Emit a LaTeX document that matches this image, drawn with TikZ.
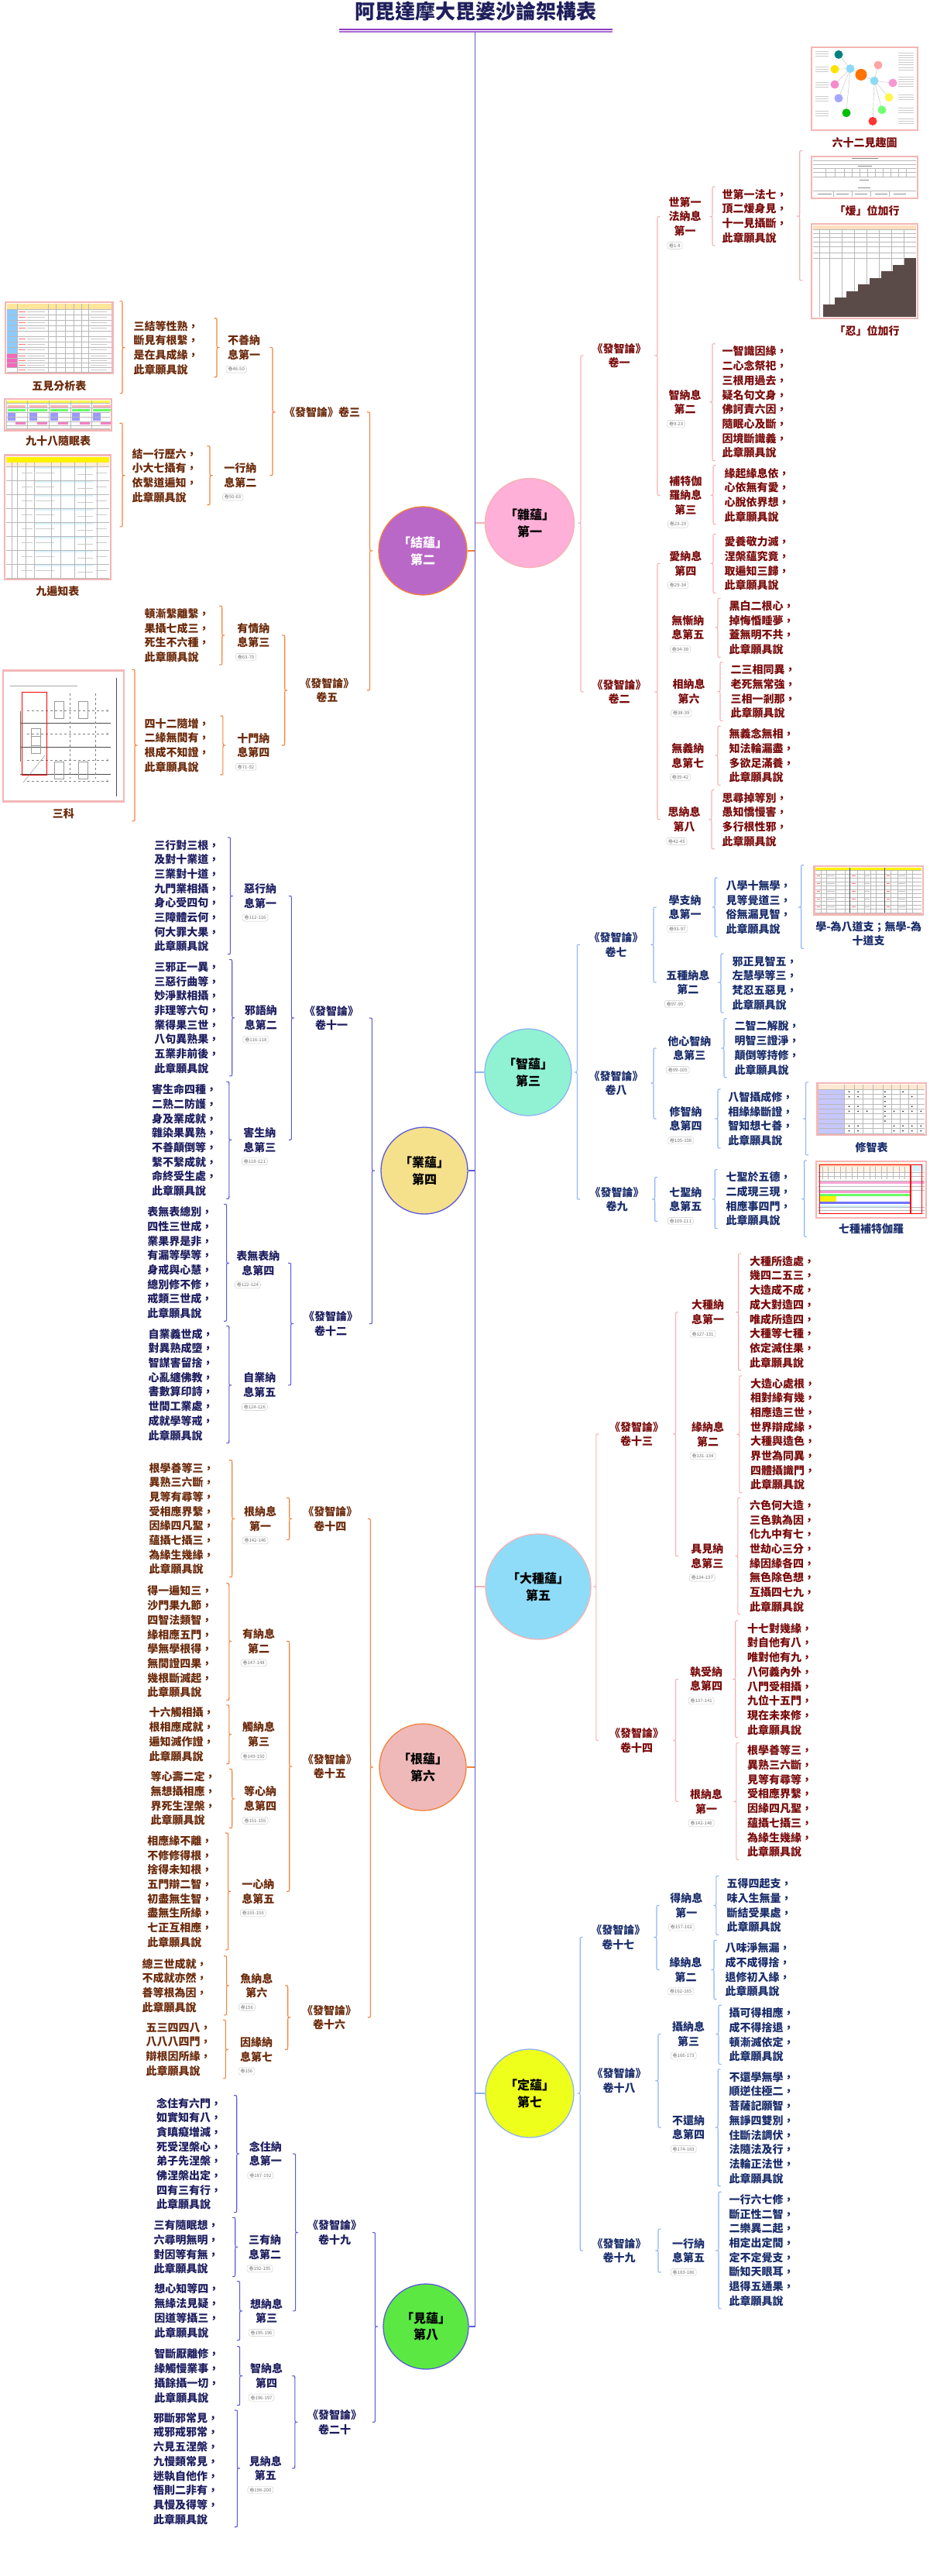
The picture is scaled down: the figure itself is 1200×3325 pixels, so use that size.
\documentclass[tikz,border=0pt]{standalone}
\usepackage{fontspec}
\setmainfont{Noto Sans CJK TC}
\usetikzlibrary{calc,positioning}

\definecolor{titlenavy}{HTML}{1F1F5C}
\definecolor{rulepurple}{HTML}{8E3CC0}
\definecolor{trunkblue}{HTML}{5C5CD8}
\definecolor{rosel}{HTML}{F5B2B2}
\definecolor{rosetx}{HTML}{7A0C0C}
\definecolor{orangel}{HTML}{F2813A}
\definecolor{orangetx}{HTML}{6B2A0B}
\definecolor{skyl}{HTML}{8DB4F5}
\definecolor{skytx}{HTML}{1A2D6B}
\definecolor{bluel}{HTML}{5A5AD9}
\definecolor{bluetx}{HTML}{1E1E60}
\definecolor{shotpink}{HTML}{F4B6B6}
\definecolor{zafill}{HTML}{FFB0D8}
\definecolor{jiefill}{HTML}{BA68C8}
\definecolor{zhifill}{HTML}{90F2D2}
\definecolor{yefill}{HTML}{F5E08C}
\definecolor{dafill}{HTML}{8FDCF8}
\definecolor{genfill}{HTML}{F0B9B9}
\definecolor{dingfill}{HTML}{EEFF1C}
\definecolor{jianfill}{HTML}{5BE843}
\definecolor{stair}{HTML}{5B4B48}
\definecolor{hdr}{HTML}{FFE699}

% brace from a parent to its children: style, x, curl (3.5pt right / -3.5pt left), top, tip, bottom
\newcommand\xfork[6]{%
  \draw[#1] let \p4=(#2,0), \p1=(#4), \p2=(#5), \p3=(#6) in
    ({\x4+(#3)},\y1) .. controls (\x4,\y1) .. (\x4,{\y1-3.5pt})
    -- (\x4,{\y2+3pt}) .. controls (\x4,\y2) .. ({\x4-(#3)},\y2)
    .. controls (\x4,\y2) .. (\x4,{\y2-3pt})
    -- (\x4,{\y3+3.5pt}) .. controls (\x4,\y3) .. ({\x4+(#3)},\y3);}

% section label with its volume tag under it: name, position, colour, label, volumes
\newcommand\nax[5]{%
  \node[nax=#3] (#1) at (#2) {#4};
  \node[volno, anchor=north west] (#1-g) at ([shift={(1,4)}]#1.south west) {#5};}

\begin{document}
\begin{tikzpicture}[x=1pt,y=-1pt,
    ball/.style={circle, draw=#1, line width=1.3pt, inner sep=0pt, align=center,
      font=\bfseries\fontsize{16}{21.8}\selectfont},
    juan/.style={align=center, inner sep=3pt, text=#1, font=\bfseries\fontsize{14}{18.6}\selectfont},
    nax/.style={align=center, inner sep=3pt, text=#1, font=\bfseries\fontsize{14}{18.6}\selectfont},
    gatha/.style={anchor=west, align=left, inner sep=3pt, text=#1, font=\bfseries\fontsize{14}{18.7}\selectfont},
    volno/.style={draw=black!22, fill=white, rounded corners=3pt, text=black!55,
      font=\fontsize{6}{7}\selectfont, inner xsep=2.5pt, inner ysep=1.8pt},
    shot/.style={draw=shotpink, line width=2.4pt, fill=white, inner sep=0pt},
    cap/.style={align=center, inner sep=3pt, text=#1, font=\bfseries\fontsize{14}{18.6}\selectfont},
    rosef/.style={draw=rosel, line width=1.1pt},
    orangef/.style={draw=orangel, line width=1.1pt},
    skyf/.style={draw=skyl, line width=1.1pt},
    bluef/.style={draw=bluel, line width=1.1pt},
    cellline/.style={draw=black!28, line width=0.35pt},
    inkline/.style={draw=black!30, line width=0.9pt},
  ]
\useasboundingbox (0,0) rectangle (1200,3325);

% title and trunk
\node[text=titlenavy, font=\bfseries\fontsize{26}{30}\selectfont] (title) at (614,15) {阿毘達摩大毘婆沙論架構表};
\draw[rulepurple, line width=1.4pt] (438,37.8) -- (791,37.8);
\draw[rulepurple!75, line width=1.1pt] (438,41) -- (791,41);
\coordinate (trunk) at (613.5,41);

% ---------- 雜蘊 ----------
\node[ball=rosel, fill=zafill, minimum size=115pt] (za) at (684,675) {「雜蘊」\\第一};
\draw[rosef] (za.west -| trunk) -- (za.west);
\node[juan=rosetx] (za-v1) at (799.5,459) {《發智論》\\卷一};
\node[juan=rosetx] (za-v2) at (799.5,893) {《發智論》\\卷二};
\xfork{rosef}{750}{3.5pt}{za-v1}{za}{za-v2}
\nax{za-s1}{884.5,279.6}{rosetx}{世第一\\法納息\\第一}{卷1-8}
\nax{za-s2}{884.5,519}{rosetx}{智納息\\第二}{卷9-23}
\nax{za-s3}{885.3,639.3}{rosetx}{補特伽\\羅納息\\第三}{卷23-29}
\xfork{rosef}{849}{3.5pt}{za-s1}{za-v1}{za-s3}
\node[gatha=rosetx] (za-t1) at (929.5,279) {世第一法七，\\頂二煖身見，\\十一見攝斷，\\此章願具說};
\xfork{rosef}{920}{3.5pt}{za-t1.north}{za-s1}{za-t1.south}
\node[gatha=rosetx] (za-t2) at (929.5,519.1) {一智識因緣，\\二心念祭祀，\\三根用過去，\\疑名句文身，\\佛訶責六因，\\隨眠心及斷，\\因境斷識義，\\此章願具說};
\xfork{rosef}{920}{3.5pt}{za-t2.north}{za-s2}{za-t2.south}
\node[gatha=rosetx] (za-t3) at (932.4,638.75) {緣起緣息依，\\心依無有愛，\\心脫依界想，\\此章願具說};
\xfork{rosef}{921}{3.5pt}{za-t3.north}{za-s3}{za-t3.south}
\nax{za-s4}{885.3,727.3}{rosetx}{愛納息\\第四}{卷29-34}
\nax{za-s5}{888.4,810}{rosetx}{無慚納\\息第五}{卷34-38}
\nax{za-s6}{889.6,892.6}{rosetx}{相納息\\第六}{卷38-39}
\nax{za-s7}{888.4,975.3}{rosetx}{無義納\\息第七}{卷39-42}
\nax{za-s8}{883.7,1057.8}{rosetx}{思納息\\第八}{卷42-45}
\xfork{rosef}{849}{3.5pt}{za-s4}{za-v2}{za-s8}
\node[gatha=rosetx] (za-t4) at (932.4,727.4) {愛養敬力滅，\\涅槃蘊究竟，\\取遍知三歸，\\此章願具說};
\xfork{rosef}{921}{3.5pt}{za-t4.north}{za-s4}{za-t4.south}
\node[gatha=rosetx] (za-t5) at (938.3,810.3) {黑白二根心，\\掉悔惛睡夢，\\蓋無明不共，\\此章願具說};
\xfork{rosef}{927}{3.5pt}{za-t5.north}{za-s5}{za-t5.south}
\node[gatha=rosetx] (za-t6) at (940.3,892.5) {二三相同異，\\老死無常強，\\三相一剎那，\\此章願具說};
\xfork{rosef}{930}{3.5pt}{za-t6.north}{za-s6}{za-t6.south}
\node[gatha=rosetx] (za-t7) at (938.3,975.3) {無義念無相，\\知法輪漏盡，\\多欲足滿養，\\此章願具說};
\xfork{rosef}{927}{3.5pt}{za-t7.north}{za-s7}{za-t7.south}
\node[gatha=rosetx] (za-t8) at (929.5,1057.7) {思尋掉等別，\\愚知憍慢害，\\多行根性邪，\\此章願具說};
\xfork{rosef}{919}{3.5pt}{za-t8.north}{za-s8}{za-t8.south}
% pictures of 世第一法
\node[shot, minimum width=137pt, minimum height=107pt] (za-p1) at (1116.5,114.5) {};
\begin{scope}[cellline]
  \foreach \a/\b in {1083/70.4,1078/89.3,1078/109,1083/126.8,1093/145.7}
    \draw (\a,\b) -- (1098,88.6);
  \draw (1098,88.6) -- (1112,96.4) -- (1129,104.3);
  \foreach \a/\b in {1134/84,1153/107,1148/125.7,1139/141.8,1127/156.4}
    \draw (1129,104.3) -- (\a,\b);
\end{scope}
\foreach \b in {66,69,72,86,89,92,106,109,112,124,127,130,143,146,149}
  \draw[inkline, black!20] (1053,\b) -- (1070,\b);
\foreach \b in {68,71,74,77,80,83,87,90,99,102,105,108,111,122,125,128,139,142,145,153,156,159}
  \draw[inkline, black!20] (1160,\b) -- (1180,\b);
\foreach \a/\b/\col in {1083/70.4/teal, 1078/89.3/yellow!85!orange, 1098/88.6/cyan!45,
    1078/109/magenta!45, 1083/126.8/blue!35, 1093/145.7/green!75!black, 1127/156.4/red!80,
    1134/84/red!35, 1129/104.3/cyan!45, 1153/107/magenta!40, 1148/125.7/yellow!70, 1139/141.8/green!55}
  \fill[\col] (\a,\b) circle (5.5);
\fill[orange!90!red] (1112,96.4) circle (7.5);
\node[cap=rosetx] (za-c1) at (1116.6,184.6) {六十二見趣圖};
\node[shot, minimum width=137pt, minimum height=54pt] (za-p2) at (1116.5,229) {};
\foreach \b in {207,212,217,222,228,246} \draw[cellline] (1050,\b) -- (1183,\b);
\foreach \a in {1066,1078,1090,1100,1110,1120,1130,1140,1150,1160,1170} \draw[cellline] (\a,217) -- (\a,228);
\foreach \a in {1076,1100,1124,1148} \draw[cellline] (\a,246) -- (\a,254);
\draw[inkline, black!45] (1100,204) -- (1134,204) (1108,214.5) -- (1126,214.5) (1110,232) -- (1122,232) (1108,242) -- (1124,242)
  (1056,250) -- (1074,250) (1080,250) -- (1096,250) (1104,250) -- (1120,250) (1130,250) -- (1146,250) (1154,250) -- (1170,250);
\node[cap=rosetx] (za-c2) at (1119.7,272) {「煖」位加行};
\node[shot, minimum width=137pt, minimum height=122pt] (za-p3) at (1116.5,350) {};
\fill[orange!25] (1050,291) rectangle (1183,296);
\foreach \b in {296,301,306,312,318,326,333} \draw[cellline] (1050,\b) -- (1183,\b);
\foreach \a in {1058,1071,1087,1103,1119,1135,1151,1167} \draw[cellline] (\a,296) -- (\a,409);
\foreach \i in {0,...,7} \fill[stair] ({1183-15*(\i+1)},{333+8.5*\i}) rectangle (1183,{333+8.5*(\i+1)});
\fill[stair] (1063,401) rectangle (1183,409);
\node[cap=rosetx] (za-c3) at (1119.7,426.8) {「忍」位加行};
\xfork{rosef}{1032.7}{3.5pt}{za-c1.south}{za-t1}{$(za-p3)+(0,12)$}

% ---------- 結蘊 ----------
\node[ball=orangel, fill=jiefill, text=white, minimum size=114pt] (jie) at (546,711) {「結蘊」\\第二};
\draw[orangef] (jie.east) -- (jie.east -| trunk);
\node[juan=orangetx] (jie-v1) at (416,532) {《發智論》卷三};
\node[juan=orangetx] (jie-v2) at (422.3,891) {《發智論》\\卷五};
\xfork{orangef}{477.6}{-3.5pt}{jie-v1}{jie}{jie-v2}
\nax{jie-s1}{315,448.6}{orangetx}{不善納\\息第一}{卷46-50}
\nax{jie-s2}{310.4,613.7}{orangetx}{一行納\\息第二}{卷50-63}
\xfork{orangef}{352}{-3.5pt}{jie-s1}{jie-v1}{jie-s2}
\node[gatha=orangetx] (jie-t1) at (169.3,448.75) {三結等性熟，\\斷見有根繫，\\是在具成緣，\\此章願具說};
\xfork{orangef}{280}{-3.5pt}{jie-t1.north}{jie-s1}{jie-t1.south}
\node[gatha=orangetx] (jie-t2) at (167.3,613.75) {結一行歷六，\\小大七攝有，\\依繫道遍知，\\此章願具說};
\xfork{orangef}{271}{-3.5pt}{jie-t2.north}{jie-s2}{jie-t2.south}
\nax{jie-s3}{327.4,820}{orangetx}{有情納\\息第三}{卷63-70}
\nax{jie-s4}{327.4,962}{orangetx}{十門納\\息第四}{卷71-92}
\xfork{orangef}{367.7}{-3.5pt}{jie-s3}{jie-v2}{jie-s4}
\node[gatha=orangetx] (jie-t3) at (183.5,820.1) {頓漸繫離繫，\\果攝七成三，\\死生不六種，\\此章願具說};
\xfork{orangef}{286.7}{-3.5pt}{jie-t3.north}{jie-s3}{jie-t3.south}
\node[gatha=orangetx] (jie-t4) at (183.5,962) {四十二隨增，\\二緣無間有，\\根成不知證，\\此章願具說};
\xfork{orangef}{287.9}{-3.5pt}{jie-t4.north}{jie-s4}{jie-t4.south}
% pictures of 結蘊
\node[shot, minimum width=138.5pt, minimum height=92pt] (jie-p1) at (76.25,436) {};
\fill[hdr] (9,392) rectangle (143.5,399);
\fill[blue!45!cyan!45] (9,399) rectangle (22,456);
\fill[magenta!60] (9,456) rectangle (22,474);
\foreach \b in {399,406,413,420,427,434,441,448,456,462,468,474,480} \draw[cellline] (9,\b) -- (143.5,\b);
\foreach \a in {22,62,72,84,95,105,114} \draw[cellline] (\a,392) -- (\a,480);
\foreach \b in {402,409,416,423,437,444,451,459,465,471,477} {
  \draw[inkline, red!55] (24,\b) -- (33,\b);
  \draw[inkline, black!22] (35,\b) -- (58,\b);
  \draw[inkline, black!22] (117,\b) -- (138,\b);}
\node[cap=orangetx] (jie-c1) at (76.3,498) {五見分析表};
\node[shot, minimum width=138pt, minimum height=40.4pt] (jie-p2) at (75,535.2) {};
\fill[yellow!70] (8,517) rectangle (142,520);
\foreach \a in {8,35.6,63.2,90.8,118.4} {
  \fill[red!30] ({\a+2},523) rectangle ({\a+25},526);
  \fill[green!60] ({\a+2},528) rectangle ({\a+25},531);
  \fill[blue!40] ({\a+2},533) rectangle ({\a+12},543);
  \fill[magenta!50] ({\a+12},544) rectangle ({\a+25},548);
  \draw[cellline] (\a,517) -- (\a,553);}
\foreach \b in {520,526.5,532,538,544,549,553} \draw[cellline] (8,\b) -- (142,\b);
\node[cap=orangetx] (jie-c2) at (75,569.6) {九十八隨眠表};
\node[shot, minimum width=137pt, minimum height=160.7pt] (jie-p3) at (74.5,667.85) {};
\fill[yellow] (8,589.5) rectangle (141,597);
\fill[orange!15] (8,597) rectangle (141,602);
\foreach \b in {602,620,638,656,674,692,710,728} {
  \fill[cyan!14] (44,\b) rectangle (120,{\b+3});
  \draw[cellline] (8,\b) -- (141,\b);
  \draw[inkline, black!20] (28,{\b+8}) -- (42,{\b+8}) (46,{\b+8}) -- (70,{\b+8}) (100,{\b+10}) -- (120,{\b+10}) (124,{\b+8}) -- (138,{\b+8});}
\draw[cellline] (8,746) -- (141,746);
\foreach \a in {15,22,33,44,66,78,96,110,125} \draw[cellline] (\a,597) -- (\a,746);
\node[cap=orangetx] (jie-c3) at (74.3,763.6) {九遍知表};
\xfork{orangef}{158}{-3.5pt}{jie-p1.north}{jie-t1}{jie-c1.south}
\xfork{orangef}{158}{-3.5pt}{$(jie-p2)+(0,11)$}{jie-t2}{$(jie-p3)+(0,12)$}
\node[shot, minimum width=156pt, minimum height=169pt] (jie-p4) at (82,950) {};
\draw[inkline, black!35] (13,885) -- (100,885);
\draw[black!70, line width=0.6pt] (150,875) -- (150,1028);
\foreach \b in {933,964,999} \draw[black!70, line width=0.6pt] (26,\b) -- (143,\b);
\foreach \a in {90,123} \draw[black!50, dashed, line width=0.4pt] (\a,895) -- (\a,1005);
\foreach \b in {917,947,981,1008} \draw[black!50, dashed, line width=0.4pt, ->] (35,\b) -- (140,\b);
\draw[black!60, line width=0.5pt] (26.5,918) -- (26.5,983);
\foreach \a/\b in {70/905,101/905,70/983,101/983,40/940,40/950} \draw[black!40, line width=0.5pt] (\a,\b) rectangle ({\a+12},{\b+22});
\draw[red, line width=0.8pt] (28.5,893) rectangle (60.5,1000);
\draw[black!50, line width=0.4pt] (30,1010) -- (58,975);
\node[cap=orangetx] (jie-c4) at (81.8,1050) {三科};
\xfork{orangef}{174}{-3.5pt}{jie-p4.north}{jie-t4}{jie-c4.south}

% ---------- 智蘊 ----------
\node[ball=skyl, fill=zhifill, minimum size=112pt] (zhi) at (682,1384) {「智蘊」\\第三};
\draw[skyf] (zhi.west -| trunk) -- (zhi.west);
\node[juan=skytx] (zhi-v1) at (795.5,1219.3) {《發智論》\\卷七};
\node[juan=skytx] (zhi-v2) at (795.5,1398) {《發智論》\\卷八};
\node[juan=skytx] (zhi-v3) at (796.7,1548) {《發智論》\\卷九};
\xfork{skyf}{745.3}{3.5pt}{zhi-v1}{zhi}{zhi-v3}
\nax{zhi-s1}{884.5,1171}{skytx}{學支納\\息第一}{卷93-97}
\nax{zhi-s2}{888.4,1268}{skytx}{五種納息\\第二}{卷97-99}
\xfork{skyf}{844}{3.5pt}{zhi-s1}{zhi-v1}{zhi-s2}
\node[gatha=skytx] (zhi-t1) at (934.3,1171) {八學十無學，\\見等覺道三，\\俗無漏見智，\\此章願具說};
\xfork{skyf}{923.2}{3.5pt}{zhi-t1.north}{zhi-s1}{zhi-t1.south}
\node[gatha=skytx] (zhi-t2) at (942.3,1269) {邪正見智五，\\左慧學等三，\\梵忍五惡見，\\此章願具說};
\xfork{skyf}{931}{3.5pt}{zhi-t2.north}{zhi-s2}{zhi-t2.south}
\nax{zhi-s3}{890.4,1353}{skytx}{他心智納\\息第三}{卷99-105}
\nax{zhi-s4}{885.7,1444}{skytx}{修智納\\息第四}{卷105-108}
\xfork{skyf}{844}{3.5pt}{zhi-s3}{zhi-v2}{zhi-s4}
\node[gatha=skytx] (zhi-t3) at (945.5,1352.7) {二智二解脫，\\明智三證淨，\\顛倒等持修，\\此章願具說};
\xfork{skyf}{935}{3.5pt}{zhi-t3.north}{zhi-s3}{zhi-t3.south}
\node[gatha=skytx] (zhi-t4) at (937.1,1444) {八智攝成修，\\相緣緣斷證，\\智知想七善，\\此章願具說};
\xfork{skyf}{927}{3.5pt}{zhi-t4.north}{zhi-s4}{zhi-t4.south}
\nax{zhi-s5}{885.3,1548}{skytx}{七聖納\\息第五}{卷109-111}
\xfork{skyf}{845.7}{3.5pt}{$(zhi-s5)+(0,-28.5)$}{zhi-v3}{$(zhi-s5)+(0,28.5)$}
\node[gatha=skytx] (zhi-t5) at (934.3,1547.6) {七聖於五德，\\二成現三現，\\相應事四門，\\此章願具說};
\xfork{skyf}{923.2}{3.5pt}{zhi-t5.north}{zhi-s5}{zhi-t5.south}
% pictures of 智蘊
\node[shot, minimum width=140.7pt, minimum height=62.5pt] (zhi-p1) at (1121.65,1149.15) {};
\fill[yellow] (1053,1120) rectangle (1190,1123.5);
\foreach \b in {1123.5,1128,1133,1138,1143,1148,1153,1158,1163,1168,1173,1178} \draw[cellline] (1053,\b) -- (1190,\b);
\foreach \a in {1060,1067,1079,1091,1107,1116,1124,1131,1150,1159,1170,1178} \draw[cellline] (\a,1123.5) -- (\a,1178);
\draw[black!70, line width=0.6pt] (1097,1120) -- (1097,1178) (1142,1120) -- (1142,1178);
\foreach \b in {1130.5,1140.5,1150.5,1160.5,1170.5} {
  \draw[inkline, red!55] (1055,\b) -- (1059,\b) (1100,\b) -- (1105,\b) (1145,\b) -- (1149,\b);
  \draw[inkline, black!25] (1068,\b) -- (1078,\b) (1117,\b) -- (1123,\b) (1160,\b) -- (1169,\b);}
\node[cap=skytx] (zhi-c1) at (1121.7,1205) {學-為八道支；無學-為\\十道支};
\xfork{skyf}{1034.7}{3.5pt}{zhi-p1.north}{zhi-t1}{zhi-c1.south}
\node[shot, minimum width=140.7pt, minimum height=67pt] (zhi-p2) at (1125.65,1431.5) {};
\fill[orange!18] (1057,1400) rectangle (1194,1406);
\fill[blue!22] (1057,1406) rectangle (1090,1463);
\foreach \i in {0,...,9} \draw[cellline] (1057,{1406+6.3*\i}) -- (1194,{1406+6.3*\i});
\foreach \a in {1090,1103,1114,1127,1140,1151,1162,1173,1184} \draw[cellline] (\a,1400) -- (\a,1463);
\foreach \a/\b in {1/1,2/1,5/1,7/1,1/2,2/2,5/2,8/2,5/3,1/4,2/4,5/4,8/4,1/5,2/5,3/5,5/5,6/5,7/5,8/5,9/5,
    5/6,5/7,1/8,2/8,6/8,7/8,8/8,9/8,1/9,2/9,6/9,7/9,8/9,9/9}
  \fill[black!80] ({1096.5+11.6*(\a-1)},{1409.2+6.3*(\b-1)}) circle (1);
\node[cap=skytx] (zhi-c2) at (1125.7,1481) {修智表};
\xfork{skyf}{1040.6}{3.5pt}{zhi-p2.north}{zhi-t4}{zhi-c2.south}
\node[shot, minimum width=142pt, minimum height=73pt] (zhi-p3) at (1125,1535.5) {};
\fill[orange!22] (1056,1501) rectangle (1176,1506);
\fill[orange!10] (1056,1506) rectangle (1176,1513);
\fill[cyan!15] (1178,1502) rectangle (1194,1512);
\fill[magenta!35] (1058,1524) rectangle (1194,1528);
\fill[magenta!40] (1058,1536) rectangle (1176,1540);
\fill[green!60] (1058,1541) rectangle (1176,1544);
\fill[yellow] (1058,1544) rectangle (1080,1551);
\fill[blue!55] (1058,1551) rectangle (1176,1554);
\fill[cyan!20] (1058,1556) rectangle (1176,1558);
\foreach \b in {1513,1518,1524,1531,1536,1558,1562,1566} \draw[cellline] (1056,\b) -- (1194,\b);
\foreach \i in {0,...,14} \draw[cellline] ({1062+7.6*\i},1506) -- ({1062+7.6*\i},1522);
\draw[red, line width=0.8pt] (1058,1503) rectangle (1175,1566);
\draw[red, line width=0.8pt] (1176,1503) rectangle (1190,1566);
\node[cap=skytx] (zhi-c3) at (1125,1586.4) {七種補特伽羅};
\xfork{skyf}{1038.7}{3.5pt}{zhi-p3.north}{zhi-t5}{zhi-c3.south}

% ---------- 業蘊 ----------
\node[ball=bluel, fill=yefill, minimum size=112pt] (ye) at (548,1511) {「業蘊」\\第四};
\draw[bluef] (ye.east) -- (ye.east -| trunk);
\node[juan=bluetx] (ye-v1) at (428.2,1314) {《發智論》\\卷十一};
\node[juan=bluetx] (ye-v2) at (427,1708.6) {《發智論》\\卷十二};
\xfork{bluef}{480.4}{-3.5pt}{ye-v1}{ye}{ye-v2}
\nax{ye-s1}{336,1156.6}{bluetx}{惡行納\\息第一}{卷112-116}
\nax{ye-s2}{336.9,1313.8}{bluetx}{邪語納\\息第二}{卷116-118}
\nax{ye-s3}{335.3,1471.3}{bluetx}{害生納\\息第三}{卷118-121}
\xfork{bluef}{376.4}{-3.5pt}{ye-s1}{ye-v1}{ye-s3}
\node[gatha=bluetx] (ye-t1) at (196.2,1156.25) {三行對三根，\\及對十業道，\\三業對十道，\\九門業相攝，\\身心受四句，\\三障體云何，\\何大罪大果，\\此章願具說};
\xfork{bluef}{297.4}{-3.5pt}{ye-t1.north}{ye-s1}{ye-t1.south}
\node[gatha=bluetx] (ye-t2) at (196.2,1313.75) {三邪正一異，\\三惡行曲等，\\妙淨默相攝，\\非理等六句，\\業得果三世，\\八句異熟果，\\五業非前後，\\此章願具說};
\xfork{bluef}{299.7}{-3.5pt}{ye-t2.north}{ye-s2}{ye-t2.south}
\node[gatha=bluetx] (ye-t3) at (193,1471.75) {害生命四種，\\二熟二防護，\\身及業成就，\\雜染果異熟，\\不善顛倒等，\\繫不繫成就，\\命終受生處，\\此章願具說};
\xfork{bluef}{295.8}{-3.5pt}{ye-t3.north}{ye-s3}{ye-t3.south}
\nax{ye-s4}{333.3,1630.4}{bluetx}{表無表納\\息第四}{卷122-124}
\nax{ye-s5}{335.3,1787.9}{bluetx}{自業納\\息第五}{卷124-126}
\xfork{bluef}{375.6}{-3.5pt}{ye-s4}{ye-v2}{ye-s5}
\node[gatha=bluetx] (ye-t4) at (187.1,1629.85) {表無表總別，\\四性三世成，\\業果界是非，\\有漏等學等，\\身戒與心慧，\\總別修不修，\\戒類三世成，\\此章願具說};
\xfork{bluef}{292.6}{-3.5pt}{ye-t4.north}{ye-s4}{ye-t4.south}
\node[gatha=bluetx] (ye-t5) at (188.3,1787.15) {自業義世成，\\對異熟成墮，\\智謀害留捨，\\心亂纏佛教，\\書數算印詩，\\世間工業處，\\成就學等戒，\\此章願具說};
\xfork{bluef}{295.8}{-3.5pt}{ye-t5.north}{ye-s5}{ye-t5.south}

% ---------- 大種蘊 ----------
\node[ball=rosel, fill=dafill, minimum size=136pt] (da) at (695,2048) {「大種蘊」\\第五};
\draw[rosef] (da.west -| trunk) -- (da.west);
\node[juan=rosetx] (da-v1) at (822,1851) {《發智論》\\卷十三};
\node[juan=rosetx] (da-v2) at (822,2246.4) {《發智論》\\卷十四};
\xfork{rosef}{769.8}{3.5pt}{da-v1}{da}{da-v2}
\nax{da-s1}{914,1693.8}{rosetx}{大種納\\息第一}{卷127-131}
\nax{da-s2}{914,1851.3}{rosetx}{緣納息\\第二}{卷131-134}
\nax{da-s3}{913.3,2008.6}{rosetx}{具見納\\息第三}{卷134-137}
\xfork{rosef}{872.6}{3.5pt}{da-s1}{da-v1}{da-s3}
\node[gatha=rosetx] (da-t1) at (964.8,1693.4) {大種所造處，\\幾四二五三，\\大造成不成，\\成大對造四，\\唯成所造四，\\大種等七種，\\依定滅住果，\\此章願具說};
\xfork{rosef}{953.7}{3.5pt}{da-t1.north}{da-s1}{da-t1.south}
\node[gatha=rosetx] (da-t2) at (966,1851.25) {大造心處根，\\相對緣有幾，\\相應造三世，\\世界辯成緣，\\大種與造色，\\界世為同異，\\四體攝識門，\\此章願具說};
\xfork{rosef}{954.8}{3.5pt}{da-t2.north}{da-s2}{da-t2.south}
\node[gatha=rosetx] (da-t3) at (964.8,2008.45) {六色何大造，\\三色孰為因，\\化九中有七，\\世劫心三分，\\緣因緣各四，\\無色除色想，\\互攝四七九，\\此章願具說};
\xfork{rosef}{952.9}{3.5pt}{da-t3.north}{da-s3}{da-t3.south}
\nax{da-s4}{912.1,2167.3}{rosetx}{執受納\\息第四}{卷137-141}
\nax{da-s5}{912.1,2325.3}{rosetx}{根納息\\第一}{卷142-146}
\xfork{rosef}{872.6}{3.5pt}{da-s4}{da-v2}{da-s5}
\node[gatha=rosetx] (da-t4) at (962,2167.35) {十七對幾緣，\\對自他有八，\\唯對他有九，\\八何義內外，\\八門受相攝，\\九位十五門，\\現在未來修，\\此章願具說};
\xfork{rosef}{949.7}{3.5pt}{da-t4.north}{da-s4}{da-t4.south}
\node[gatha=rosetx] (da-t5) at (962,2324.95) {根學善等三，\\異熟三六斷，\\見等有尋等，\\受相應界繫，\\因緣四凡聖，\\蘊攝七攝三，\\為緣生幾緣，\\此章願具說};
\xfork{rosef}{950.9}{3.5pt}{da-t5.north}{da-s5}{da-t5.south}

% ---------- 根蘊 ----------
\node[ball=orangel, fill=genfill, minimum size=112pt] (gen) at (546,2281) {「根蘊」\\第六};
\draw[orangef] (gen.east) -- (gen.east -| trunk);
\node[juan=orangetx] (gen-v1) at (426.3,1960.4) {《發智論》\\卷十四};
\node[juan=orangetx] (gen-v2) at (425.9,2280) {《發智論》\\卷十五};
\node[juan=orangetx] (gen-v3) at (425,2604) {《發智論》\\卷十六};
\xfork{orangef}{478.4}{-3.5pt}{gen-v1}{gen}{gen-v3}
\nax{gen-s1}{336,1960.4}{orangetx}{根納息\\第一}{卷142-146}
\xfork{orangef}{373.7}{-3.5pt}{$(gen-s1)+(0,-27)$}{gen-v1}{$(gen-s1)+(0,27)$}
\node[gatha=orangetx] (gen-t1) at (189.5,1960.15) {根學善等三，\\異熟三六斷，\\見等有尋等，\\受相應界繫，\\因緣四凡聖，\\蘊攝七攝三，\\為緣生幾緣，\\此章願具說};
\xfork{orangef}{299.7}{-3.5pt}{gen-t1.north}{gen-s1}{gen-t1.south}
\nax{gen-s2}{334.1,2118.4}{orangetx}{有納息\\第二}{卷147-148}
\nax{gen-s3}{334.1,2238.8}{orangetx}{觸納息\\第三}{卷149-150}
\nax{gen-s4}{336,2321.8}{orangetx}{等心納\\息第四}{卷151-155}
\nax{gen-s5}{333.3,2441.4}{orangetx}{一心納\\息第五}{卷155-156}
\xfork{orangef}{373.7}{-3.5pt}{gen-s2}{gen-v2}{gen-s5}
\node[gatha=orangetx] (gen-t2) at (187.1,2119.1) {得一遍知三，\\沙門果九節，\\四智法類智，\\緣相應五門，\\學無學根得，\\無間證四果，\\幾根斷滅起，\\此章願具說};
\xfork{orangef}{295.8}{-3.5pt}{gen-t2.north}{gen-s2}{gen-t2.south}
\node[gatha=orangetx] (gen-t3) at (189.5,2238.75) {十六觸相攝，\\根相應成就，\\遍知滅作證，\\此章願具說};
\xfork{orangef}{295.8}{-3.5pt}{gen-t3.north}{gen-s3}{gen-t3.south}
\node[gatha=orangetx] (gen-t4) at (191.5,2321.45) {等心壽二定，\\無想攝相應，\\界死生涅槃，\\此章願具說};
\xfork{orangef}{299.7}{-3.5pt}{gen-t4.north}{gen-s4}{gen-t4.south}
\node[gatha=orangetx] (gen-t5) at (187.1,2441.4) {相應緣不離，\\不修修得根，\\捨得未知根，\\五門辯二智，\\初盡無生智，\\盡無生所緣，\\七正互相應，\\此章願具說};
\xfork{orangef}{294.6}{-3.5pt}{gen-t5.north}{gen-s5}{gen-t5.south}
\nax{gen-s6}{331.4,2562.9}{orangetx}{魚納息\\第六}{卷156}
\nax{gen-s7}{331,2645.5}{orangetx}{因緣納\\息第七}{卷156}
\xfork{orangef}{371.7}{-3.5pt}{gen-s6}{gen-v3}{gen-s7}
\node[gatha=orangetx] (gen-t6) at (180.4,2562.8) {總三世成就，\\不成就亦然，\\善等根為因，\\此章願具說};
\xfork{orangef}{292.6}{-3.5pt}{gen-t6.north}{gen-s6}{gen-t6.south}
\node[gatha=orangetx] (gen-t7) at (185.5,2645.15) {五三四四八，\\八八八四門，\\辯根因所緣，\\此章願具說};
\xfork{orangef}{291.4}{-3.5pt}{gen-t7.north}{gen-s7}{gen-t7.south}

% ---------- 定蘊 ----------
\node[ball=skyl, fill=dingfill, minimum size=114pt] (ding) at (684,2702) {「定蘊」\\第七};
\draw[skyf] (ding.west -| trunk) -- (ding.west);
\node[juan=skytx] (ding-v1) at (798.3,2500.5) {《發智論》\\卷十七};
\node[juan=skytx] (ding-v2) at (799.5,2685.7) {《發智論》\\卷十八};
\node[juan=skytx] (ding-v3) at (799.5,2905) {《發智論》\\卷十九};
\xfork{skyf}{749.2}{3.5pt}{ding-v1}{ding}{ding-v3}
\nax{ding-s1}{886.4,2459.5}{skytx}{得納息\\第一}{卷157-162}
\nax{ding-s2}{885.7,2542.3}{skytx}{緣納息\\第二}{卷162-165}
\xfork{skyf}{848}{3.5pt}{ding-s1}{ding-v1}{ding-s2}
\node[gatha=skytx] (ding-t1) at (935.5,2459.45) {五得四起支，\\味入生無量，\\斷結受果處，\\此章願具說};
\xfork{skyf}{924.8}{3.5pt}{ding-t1.north}{ding-s1}{ding-t1.south}
\node[gatha=skytx] (ding-t2) at (933.5,2542.35) {八味淨無漏，\\成不成得捨，\\退修初入緣，\\此章願具說};
\xfork{skyf}{922}{3.5pt}{ding-t2.north}{ding-s2}{ding-t2.south}
\nax{ding-s3}{889.2,2625.5}{skytx}{攝納息\\第三}{卷166-173}
\nax{ding-s4}{889.2,2746}{skytx}{不還納\\息第四}{卷174-183}
\xfork{skyf}{850}{3.5pt}{ding-s3}{ding-v2}{ding-s4}
\node[gatha=skytx] (ding-t3) at (938.3,2626.25) {攝可得相應，\\成不得捨退，\\頓漸滅依定，\\此章願具說};
\xfork{skyf}{928}{3.5pt}{ding-t3.north}{ding-s3}{ding-t3.south}
\node[gatha=skytx] (ding-t4) at (938.3,2746.3) {不還學無學，\\順逆住極二，\\菩薩記願智，\\無諍四雙別，\\住斷法調伏，\\法隨法及行，\\法輪正法世，\\此章願具說};
\xfork{skyf}{927.2}{3.5pt}{ding-t4.north}{ding-s4}{ding-t4.south}
\nax{ding-s5}{889.2,2905}{skytx}{一行納\\息第五}{卷183-186}
\xfork{skyf}{850}{3.5pt}{$(ding-s5)+(0,-28)$}{ding-v3}{$(ding-s5)+(0,28)$}
\node[gatha=skytx] (ding-t5) at (938.3,2904.55) {一行六七修，\\斷正性二智，\\二樂異二起，\\相定出定間，\\定不定覺支，\\斷知天眼耳，\\退得五通果，\\此章願具說};
\xfork{skyf}{928}{3.5pt}{ding-t5.north}{ding-s5}{ding-t5.south}

% ---------- 見蘊 ----------
\node[ball=bluel, fill=jianfill, minimum size=110pt] (jian) at (550,3003) {「見蘊」\\第八};
\draw[trunkblue, line width=1.6pt] (trunk) |- (jian.east);
\node[juan=bluetx] (jian-v1) at (432.2,2881.6) {《發智論》\\卷十九};
\node[juan=bluetx] (jian-v2) at (432.2,3126.3) {《發智論》\\卷二十};
\xfork{bluef}{484.4}{-3.5pt}{jian-v1}{jian}{jian-v2}
\nax{jian-s1}{342.8,2780}{bluetx}{念住納\\息第一}{卷187-192}
\nax{jian-s2}{342,2900.4}{bluetx}{三有納\\息第二}{卷192-195}
\nax{jian-s3}{344,2982.9}{bluetx}{想納息\\第三}{卷195-196}
\xfork{bluef}{381.6}{-3.5pt}{jian-s1}{jian-v1}{jian-s3}
\node[gatha=bluetx] (jian-t1) at (199,2780.15) {念住有六門，\\如實知有八，\\貪瞋癡增減，\\死受涅槃心，\\弟子先涅槃，\\佛涅槃出定，\\四有三有行，\\此章願具說};
\xfork{bluef}{305.7}{-3.5pt}{jian-t1.north}{jian-s1}{jian-t1.south}
\node[gatha=bluetx] (jian-t2) at (195.4,2900.35) {三有隨眠想，\\六尋明無明，\\對因等有無，\\此章願具說};
\xfork{bluef}{303.7}{-3.5pt}{jian-t2.north}{jian-s2}{jian-t2.south}
\node[gatha=bluetx] (jian-t3) at (196.2,2982.65) {想心知等四，\\無緣法見疑，\\因道等攝三，\\此章願具說};
\xfork{bluef}{309.6}{-3.5pt}{jian-t3.north}{jian-s3}{jian-t3.south}
\nax{jian-s4}{344,3066.7}{bluetx}{智納息\\第四}{卷196-197}
\nax{jian-s5}{342.8,3186}{bluetx}{見納息\\第五}{卷198-200}
\xfork{bluef}{380.8}{-3.5pt}{jian-s4}{jian-v2}{jian-s5}
\node[gatha=bluetx] (jian-t4) at (196.2,3066.65) {智斷厭離修，\\緣觸慢業事，\\攝餘攝一切，\\此章願具說};
\xfork{bluef}{309.6}{-3.5pt}{jian-t4.north}{jian-s4}{jian-t4.south}
\node[gatha=bluetx] (jian-t5) at (195,3186.35) {邪斷邪常見，\\戒邪戒邪常，\\六見五涅槃，\\九慢類常見，\\迷執自他作，\\悟則二非有，\\具慢及得等，\\此章願具說};
\xfork{bluef}{306.4}{-3.5pt}{jian-t5.north}{jian-s5}{jian-t5.south}
\end{tikzpicture}
\end{document}
